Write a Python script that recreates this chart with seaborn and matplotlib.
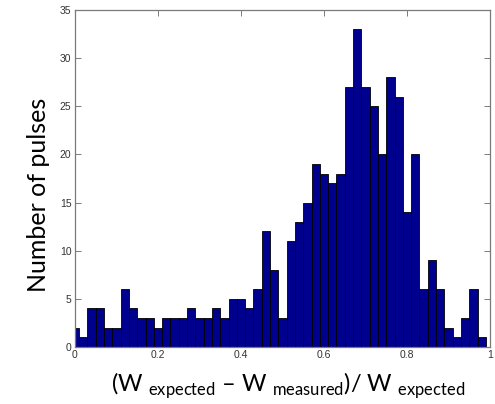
import numpy as np
import pandas as pd
import matplotlib
matplotlib.use("Agg")
import matplotlib.pyplot as plt
import seaborn as sns

# bin centers (value of the ratio) and counts per bin
bin_centers = [round(0.02 * i, 2) for i in range(50)]
counts = [2, 1, 4, 4, 2, 2, 6, 4, 3, 3,
          2, 3, 3, 3, 4, 3, 3, 4, 3, 5,
          5, 4, 6, 12, 8, 3, 11, 13, 15, 19,
          18, 17, 18, 27, 33, 27, 25, 20, 28, 26,
          14, 20, 6, 9, 6, 2, 1, 3, 6, 1]
x_ticks = [0, 0.2, 0.4, 0.6, 0.8, 1]
x_tick_labels = ["0", "0.2", "0.4", "0.6", "0.8", "1"]
y_ticks = [0, 5, 10, 15, 20, 25, 30, 35]

df = pd.DataFrame({"ratio": bin_centers, "count": counts})

sns.set_style("white")
plt.rcParams["mathtext.fontset"] = "custom"
plt.rcParams["mathtext.rm"] = "Lato"
plt.rcParams["font.family"] = ["Lato", "DejaVu Sans"]

fig = plt.figure(figsize=(4.95, 4.04), dpi=100)
ax = fig.add_axes([75 / 495, 1 - 347 / 404, 415 / 495, 337 / 404])

sns.histplot(data=df, x="ratio", weights="count", binwidth=0.02,
             binrange=(-0.01, 0.99), color="#00008F", alpha=1,
             edgecolor="black", linewidth=0.6, ax=ax)

ax.set_xlim(0, 1)
ax.set_ylim(0, 35)
ax.set_xticks(x_ticks)
ax.set_xticklabels(x_tick_labels)
ax.set_yticks(y_ticks)
for lab in ax.get_xticklabels() + ax.get_yticklabels():
    lab.set_fontfamily("Liberation Sans")
    lab.set_fontsize(7.5)
ax.tick_params(direction="in", length=4, width=0.6, top=True, right=True,
               bottom=True, left=True, pad=2.5, colors="#666666",
               labelcolor="#333333")
for s in ax.spines.values():
    s.set_visible(True)
    s.set_color("#7a7a7a")
    s.set_linewidth(0.9)

ax.set_ylabel("Number of pulses", fontsize=18, color="black")
ax.yaxis.set_label_coords(-0.06, 0.45)
ax.set_xlabel(r"(W ${}_{\rm expected}$ – W ${}_{\rm measured}$)/ W ${}_{\rm expected}$",
              fontsize=17, color="black")
ax.xaxis.set_label_coords(0.513, -0.07)

fig.savefig("out.png", dpi=100)
